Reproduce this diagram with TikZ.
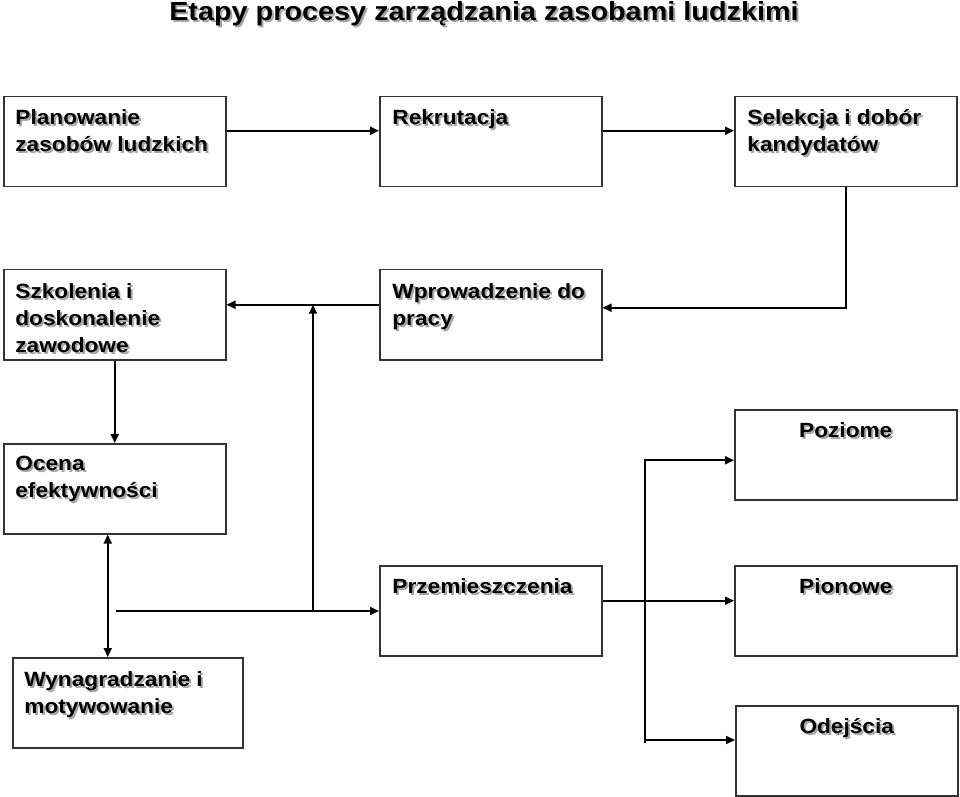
\documentclass[tikz,border=0pt]{standalone}
\usepackage{fontspec}
\setmainfont{Liberation Sans}[FakeStretch=1.1]
\usetikzlibrary{arrows.meta}

% text with a soft drop shadow
\newcommand{\shl}[1]{\leavevmode\rlap{\kern1pt\raisebox{-1pt}{\textcolor{black!35}{#1}}}#1}

\begin{document}
\begin{tikzpicture}[x=0.5pt, y=-0.5pt]
    % Styles
    \tikzstyle{box} = [rectangle, draw=black!80, line width=0.75pt, anchor=north west,
        minimum width=111pt, minimum height=45pt, inner sep=0pt]
    \tikzstyle{txt} = [anchor=north west, inner sep=0pt, align=left,
        font=\fontsize{10.3}{13.5}\selectfont\bfseries]
    \tikzstyle{ctxt} = [anchor=north, inner sep=0pt, align=center,
        font=\fontsize{10.3}{13.5}\selectfont\bfseries]
    \tikzstyle{arrow} = [line width=1pt, -{Triangle[length=4.5pt,width=4pt]}]
    \tikzstyle{dblarrow} = [line width=1pt, {Triangle[length=4.5pt,width=4pt]}-{Triangle[length=4.5pt,width=4pt]}]

    \useasboundingbox (0,0) rectangle (960,797);

    % === TITLE ===
    \node [anchor=base, inner sep=0pt, font=\fontsize{13.1}{16}\selectfont\bfseries] (title) at (484,21)
        {\shl{Etapy procesy zarządzania zasobami ludzkimi}};

    % === ROW 1 ===
    \node [box] (plan) at (3,96) {};
    \node [box] (rekr) at (379,96) {};
    \node [box] (sel) at (734,96) {};

    % === ROW 2 ===
    \node [box] (szk) at (3,269) {};
    \node [box] (wpr) at (379,269) {};

    % === LEFT COLUMN ===
    \node [box] (ocena) at (3,443) {};
    \node [box, minimum width=115pt] (wyn) at (12,657) {};

    % === MOVEMENTS ===
    \node [box] (przem) at (379,565) {};
    \node [box] (poz) at (734,409) {};
    \node [box] (pion) at (734,565) {};
    \node [box] (odej) at (735,705) {};

    % === Texts ===
    \node [txt] (plan-t) at ([shift={(6pt,-6.5pt)}]plan.north west) {\shl{Planowanie}\\\shl{zasobów ludzkich}};
    \node [txt] (rekr-t) at ([shift={(6.5pt,-6.5pt)}]rekr.north west) {\shl{Rekrutacja}};
    \node [txt] (sel-t) at ([shift={(6.5pt,-6.5pt)}]sel.north west) {\shl{Selekcja i dobór}\\\shl{kandydatów}};
    \node [txt] (szk-t) at ([shift={(6pt,-7pt)}]szk.north west) {\shl{Szkolenia i}\\\shl{doskonalenie}\\\shl{zawodowe}};
    \node [txt] (wpr-t) at ([shift={(6.5pt,-7pt)}]wpr.north west) {\shl{Wprowadzenie do}\\\shl{pracy}};
    \node [txt] (ocena-t) at ([shift={(6pt,-6.5pt)}]ocena.north west) {\shl{Ocena}\\\shl{efektywności}};
    \node [txt] (wyn-t) at ([shift={(6pt,-7pt)}]wyn.north west) {\shl{Wynagradzanie i}\\\shl{motywowanie}};
    \node [txt] (przem-t) at ([shift={(6.5pt,-6.5pt)}]przem.north west) {\shl{Przemieszczenia}};
    \node [ctxt] (poz-t) at ([yshift=-6.5pt]poz.north) {\shl{Poziome}};
    \node [ctxt] (pion-t) at ([yshift=-6.5pt]pion.north) {\shl{Pionowe}};
    \node [ctxt] (odej-t) at ([yshift=-6.5pt]odej.north) {\shl{Odejścia}};

    % === Free ends ===
    \coordinate (feed) at (116,611);
    \coordinate (riser) at (313,610);
    \coordinate (fork) at (645,743);
    \coordinate (szk-in) at ([yshift=5pt]szk.east);

    % === ARROWS: Main Flow ===
    \draw [arrow] ([yshift=5.5pt]plan.east) -- ([yshift=5.5pt]rekr.west);
    \draw [arrow] ([yshift=5.5pt]rekr.east) -- ([yshift=5.5pt]sel.west);
    \draw [arrow] (sel.south) |- ([yshift=3.5pt]wpr.east);
    \draw [arrow] ([yshift=5pt]wpr.west) -- (szk-in);
    \draw [arrow] (szk.south) -- (ocena.north);
    \draw [dblarrow] ([xshift=-3.5pt]ocena.south) -- ([xshift=-3.5pt]ocena.south |- wyn.north);

    % === ARROWS: Movements ===
    \draw [arrow] (feed) -- (feed -| przem.west);
    \draw [arrow] (riser) -- (riser |- szk-in);
    \draw [arrow] ([yshift=5pt]przem.east) -- ([yshift=5pt]pion.west);
    \draw [arrow] (fork) |- ([yshift=-2.75pt]poz.west);
    \draw [arrow] ([yshift=1.5pt]fork) -- ([yshift=1.5pt]fork -| odej.west);

\end{tikzpicture}
\end{document}
